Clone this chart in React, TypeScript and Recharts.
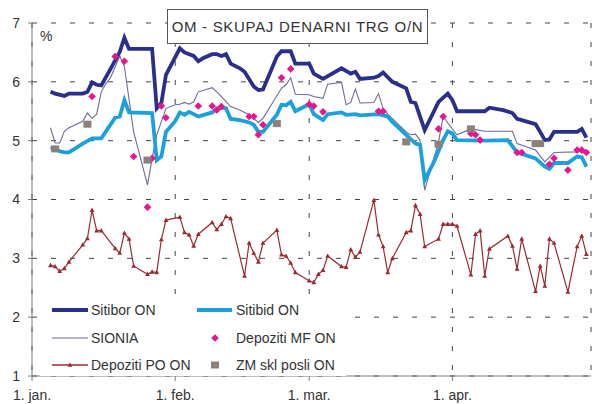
import { ComposedChart, Line, Scatter, XAxis, YAxis, CartesianGrid, Legend } from 'recharts';

// day of year (0 = 1. jan.), rate in %
const SITIBOR: [number, number][] = [
  [4, 5.83], [5, 5.8], [7, 5.76], [8, 5.8], [11, 5.8], [12, 5.83], [13, 5.99], [14, 5.95], [15, 5.94],
  [17, 6.22], [19, 6.51], [20, 6.75], [21, 6.56], [26, 6.56], [27, 5.55], [28, 5.64], [29, 6.12],
  [32, 6.57], [33, 6.5], [35, 6.44], [36, 6.35], [37, 6.4], [39, 6.47], [40, 6.47], [41, 6.44], [42, 6.47],
  [43, 6.31], [45, 6.23], [46, 6.17], [48, 5.92], [49, 5.86], [50, 5.87], [53, 6.43], [54, 6.52], [56, 6.52],
  [57, 6.31], [60, 6.31], [61, 6.14], [63, 6.05], [67, 6.23], [69, 6.14], [70, 6.17], [71, 6.05], [74, 6.07],
  [75, 6.1], [76, 6.16], [78, 6.0], [81, 5.89], [82, 5.66], [83, 5.64], [85, 5.18], [88, 5.66], [90, 5.8],
  [91, 5.69], [92, 5.5], [98, 5.5], [99, 5.56], [102, 5.52], [104, 5.47], [105, 5.37], [106, 5.35],
  [109, 5.28], [110, 5.15], [111, 5.01], [112, 5.02], [113, 5.15], [118, 5.15], [119, 5.2], [120, 5.05],
];

const SITIBID: [number, number][] = [
  [4, 4.88], [5, 4.87], [6, 4.82], [7, 4.8], [8, 4.8], [11, 4.95], [13, 5.04], [15, 5.04], [18, 5.39],
  [19, 5.41], [20, 5.69], [21, 5.48], [26, 5.47], [27, 4.67], [28, 4.73], [29, 5.15], [31, 5.33], [32, 5.48],
  [33, 5.44], [34, 5.49], [36, 5.41], [39, 5.48], [40, 5.54], [41, 5.56], [42, 5.55], [43, 5.37], [45, 5.35],
  [47, 5.31], [48, 5.27], [49, 5.15], [50, 5.15], [53, 5.44], [54, 5.61], [55, 5.6], [56, 5.66], [57, 5.5],
  [60, 5.62], [61, 5.45], [63, 5.35], [64, 5.45], [67, 5.48], [68, 5.44], [70, 5.45], [71, 5.43], [75, 5.45],
  [77, 5.41], [78, 5.32], [81, 5.1], [83, 4.95], [84, 4.93], [85, 4.33], [87, 4.64], [89, 5.01], [90, 5.16],
  [91, 5.12], [92, 5.01], [98, 5.0], [103, 5.01], [105, 4.8], [109, 4.7], [111, 4.56], [112, 4.52],
  [113, 4.62], [116, 4.62], [118, 4.73], [119, 4.72], [120, 4.56],
];

const SIONIA: [number, number][] = [
  [4, 5.22], [5, 4.96], [6, 4.96], [7, 5.16], [8, 5.22], [11, 5.33], [12, 5.47], [13, 5.38], [14, 5.45],
  [15, 5.83], [16, 5.97], [17, 6.07], [19, 6.44], [20, 6.26], [22, 5.15], [25, 4.25], [26, 4.7], [27, 5.1],
  [29, 5.55], [31, 5.61], [32, 5.62], [33, 5.65], [34, 5.62], [35, 5.66], [36, 5.83], [39, 5.9], [40, 5.83],
  [41, 5.75], [43, 5.58], [45, 5.52], [46, 5.48], [47, 5.44], [49, 5.31], [50, 5.38], [54, 5.89], [55, 5.95],
  [56, 6.07], [57, 5.79], [60, 5.78], [61, 5.75], [63, 5.72], [64, 5.96], [67, 5.99], [68, 5.61], [69, 5.65],
  [70, 5.88], [71, 5.64], [74, 5.65], [75, 5.8], [76, 5.55], [77, 5.45], [81, 5.15], [82, 5.1], [83, 5.11],
  [84, 5.01], [85, 4.16], [88, 4.98], [89, 5.41], [90, 5.3], [92, 5.1], [95, 5.2], [98, 5.16], [104, 5.16],
  [105, 4.95], [109, 4.84], [111, 4.64], [113, 4.8], [118, 4.81], [119, 4.83], [120, 4.81],
];

const DEPOZITI_MF: [number, number][] = [
  [13, 5.75], [18, 6.43], [20, 6.35], [22, 4.73], [25, 3.87], [26, 4.7], [28, 5.59], [29, 5.39], [36, 5.59],
  [39, 5.59], [40, 5.52], [41, 5.58], [47, 5.41], [48, 5.41], [49, 5.1], [50, 5.27], [54, 6.07], [56, 6.22],
  [60, 5.62], [61, 5.59], [63, 5.49], [75, 5.5], [76, 5.5], [88, 5.2], [89, 5.41], [95, 5.12], [96, 5.1],
  [97, 5.01], [105, 4.8], [106, 4.8], [112, 4.6], [113, 4.7], [116, 4.5], [118, 4.84], [119, 4.84], [120, 4.8],
];

const DEPOZITI_PO: [number, number][] = [
  [4, 2.88], [5, 2.86], [6, 2.78], [7, 2.83], [8, 2.94], [11, 3.23], [12, 3.34], [13, 3.82], [14, 3.47],
  [15, 3.47], [18, 3.17], [19, 3.09], [20, 3.43], [21, 3.33], [22, 2.87], [25, 2.73], [26, 2.77], [27, 2.76],
  [28, 3.32], [29, 3.65], [32, 3.7], [33, 3.44], [34, 3.4], [35, 3.21], [36, 3.41], [39, 3.61], [40, 3.49],
  [41, 3.58], [42, 3.71], [43, 3.68], [46, 2.7], [47, 3.26], [48, 3.09], [49, 2.94], [50, 3.26], [53, 3.48],
  [54, 3.06], [55, 3.04], [56, 2.92], [57, 2.76], [60, 2.62], [61, 2.59], [62, 2.73], [63, 2.8], [64, 3.04],
  [67, 2.86], [68, 2.85], [69, 3.15], [70, 3.02], [71, 3.11], [74, 3.99], [75, 3.4], [76, 3.2], [77, 2.76],
  [78, 3.0], [81, 3.44], [82, 3.47], [83, 3.9], [84, 3.75], [85, 3.2], [88, 3.33], [89, 3.58], [90, 3.58],
  [91, 3.58], [92, 3.55], [95, 2.72], [96, 3.41], [97, 3.47], [98, 2.7], [99, 3.16], [103, 3.38], [104, 3.21],
  [105, 2.82], [106, 3.33], [109, 2.44], [110, 2.87], [111, 2.53], [112, 3.33], [113, 3.26], [116, 2.43],
  [118, 3.2], [119, 3.38], [120, 3.07],
];

const ZM_SKL_POSLI: [number, number][] = [
  [5, 4.86], [12, 5.28], [25, 4.67], [53, 5.29], [81, 4.98], [88, 4.94], [95, 5.2], [109, 4.95], [110, 4.95],
];

const X_TICKS = [0, 31, 60, 91];
const X_LABELS = ['1. jan.', '1. feb.', '1. mar.', '1. apr.'];
const Y_TICKS = [1, 2, 3, 4, 5, 6, 7];

const FONT = '"Liberation Sans", Arial, sans-serif';
const C_SITIBOR = '#2a2f8c';
const C_SITIBID = '#1ba0dc';
const C_SIONIA = '#6e6a9a';
const C_MF = '#e8168c';
const C_PO = '#9a2a32';
const C_ZM = '#8c807b';

const toRows = (pts: [number, number][]) => pts.map(([d, v]) => ({ d, v }));

const Diamond = (p: any) => (
  <path d={`M${p.cx},${p.cy - 3.8}L${p.cx + 3.8},${p.cy}L${p.cx},${p.cy + 3.8}L${p.cx - 3.8},${p.cy}Z`} fill={C_MF} />
);
const Square = (p: any) => <rect x={p.cx - 4} y={p.cy - 3.5} width={8} height={7} fill={C_ZM} />;
const Triangle = (p: any) => (
  <path
    key={`po-${p.index}`}
    d={`M${p.cx},${p.cy - 2.6}L${p.cx + 2.4},${p.cy + 1.8}L${p.cx - 2.4},${p.cy + 1.8}Z`}
    fill={C_PO}
  />
);

function LegendBox() {
  const txt: React.CSSProperties = { position: 'absolute', fontSize: 14, color: '#333', lineHeight: '16px', whiteSpace: 'nowrap' };
  return (
    <div style={{ position: 'relative', width: 306, height: 78, background: '#fff', fontFamily: FONT }}>
      <svg width={306} height={78} style={{ position: 'absolute', left: 0, top: 0 }}>
        <line x1={12} x2={48} y1={12} y2={12} stroke={C_SITIBOR} strokeWidth={4} />
        <line x1={157} x2={192} y1={12} y2={12} stroke={C_SITIBID} strokeWidth={4} />
        <line x1={12} x2={48} y1={40} y2={40} stroke={C_SIONIA} strokeWidth={1.2} />
        <path d="M175,36.2L178.8,40L175,43.8L171.2,40Z" fill={C_MF} />
        <line x1={12} x2={48} y1={67} y2={67} stroke={C_PO} strokeWidth={1.3} />
        <path d="M30,64.4L32.4,68.8L27.6,68.8Z" fill={C_PO} />
        <rect x={171} y={63.5} width={8} height={7} fill={C_ZM} />
      </svg>
      <span style={{ ...txt, left: 51, top: 4 }}>Sitibor ON</span>
      <span style={{ ...txt, left: 196, top: 4 }}>Sitibid ON</span>
      <span style={{ ...txt, left: 51, top: 32 }}>SIONIA</span>
      <span style={{ ...txt, left: 196, top: 32 }}>Depoziti MF ON</span>
      <span style={{ ...txt, left: 51, top: 59 }}>Depoziti PO ON</span>
      <span style={{ ...txt, left: 196, top: 59 }}>ZM skl posli ON</span>
    </div>
  );
}

export default function App() {
  const tick = { fontSize: 14, fill: '#333', fontFamily: FONT };
  return (
    <div style={{ position: 'absolute', left: 0, top: 0, width: 592, height: 404, background: '#fff', fontFamily: FONT }}>
      <ComposedChart width={592} height={404} margin={{ top: 23, right: 1, bottom: 4, left: 0 }}>
        <CartesianGrid stroke="#444" strokeDasharray="5 14" />
        <XAxis
          type="number"
          dataKey="d"
          domain={[0, 121]}
          ticks={X_TICKS}
          tickFormatter={(v: number) => X_LABELS[X_TICKS.indexOf(v)] ?? ''}
          height={24}
          tickSize={5}
          tickMargin={9}
          tick={tick}
          stroke="#7a7a7a"
          allowDataOverflow
        />
        <YAxis
          type="number"
          domain={[1, 7]}
          ticks={Y_TICKS}
          width={32}
          tickSize={4}
          tickMargin={8}
          tick={tick}
          stroke="#7a7a7a"
        />
        <Legend layout="vertical" align="center" verticalAlign="middle" content={() => <LegendBox />}
          wrapperStyle={{ left: 40, top: 298, width: 306, height: 78 }} />
        <Line data={toRows(SIONIA)} dataKey="v" name="SIONIA" stroke={C_SIONIA} strokeWidth={1.1} dot={false} isAnimationActive={false} />
        <Line data={toRows(DEPOZITI_PO)} dataKey="v" name="Depoziti PO ON" stroke={C_PO} strokeWidth={1.2} dot={Triangle} isAnimationActive={false} />
        <Line data={toRows(SITIBID)} dataKey="v" name="Sitibid ON" stroke={C_SITIBID} strokeWidth={3.8} dot={false} isAnimationActive={false} />
        <Line data={toRows(SITIBOR)} dataKey="v" name="Sitibor ON" stroke={C_SITIBOR} strokeWidth={3.8} dot={false} isAnimationActive={false} />
        <Scatter data={toRows(DEPOZITI_MF)} dataKey="v" name="Depoziti MF ON" shape={Diamond} isAnimationActive={false} />
        <Scatter data={toRows(ZM_SKL_POSLI)} dataKey="v" name="ZM skl posli ON" shape={Square} isAnimationActive={false} />
      </ComposedChart>
      <div style={{ position: 'absolute', left: 40, top: 28, fontSize: 14, color: '#333' }}>%</div>
      <div
        style={{
          position: 'absolute', left: 167, top: 9, width: 259, height: 33, border: '1px solid #555', background: '#fff',
          fontSize: 15, letterSpacing: 0.7, color: '#333', lineHeight: '33px', textAlign: 'center', whiteSpace: 'nowrap',
        }}
      >
        OM - SKUPAJ DENARNI TRG O/N
      </div>
    </div>
  );
}
